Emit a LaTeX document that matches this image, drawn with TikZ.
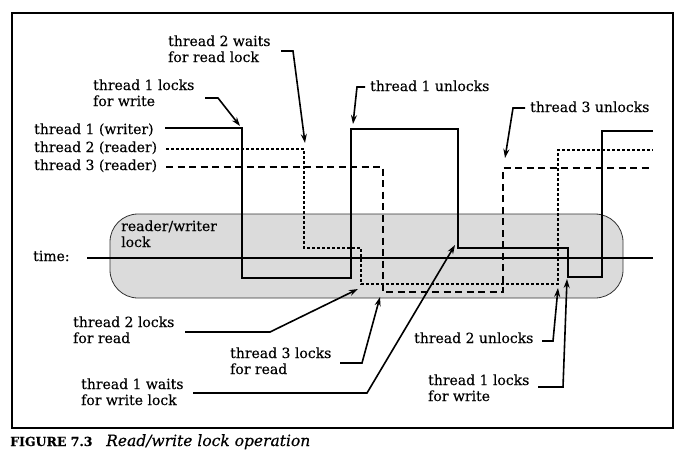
\documentclass[tikz,border=0pt]{standalone}
\usepackage{fontspec}
\setmainfont{DejaVu Serif}[FakeBold=0.3]
\usetikzlibrary{arrows.meta}
\begin{document}
\begin{tikzpicture}[x=1pt,y=-1pt,
  lbl/.style={anchor=base west, inner sep=0pt, align=left, font=\fontsize{14}{16}\selectfont},
  sig/.style={line width=1.1pt},
  sigdot/.style={sig, dash pattern=on 3pt off 2pt},
  sigdash/.style={sig, dash pattern=on 7pt off 4.5pt},
  lead/.style={line width=1.6pt, -{Stealth[length=9pt,width=6pt]}},
  lockbox/.style={fill=gray!28, draw=gray!40!black, line width=0.8pt, rounded corners=28pt},
]
\useasboundingbox (0,0) rectangle (684,463);
\draw[line width=1.3pt] (12,13) rectangle (673,428);
% lock box
\path[lockbox] (110,214) rectangle (623,298);
% (multi-line nodes: base anchor = baseline of the last line)
\node[lbl] (rw) at (121,247) {reader/writer\\lock};
% time line
\node[lbl] (time) at (33,261) {time:};
\coordinate (tstart) at (87,258);
\coordinate (tend) at (653,258);
\draw[line width=1.4pt] (tstart) -- (tend);
% thread labels
\node[lbl] (l1) at (34,134) {thread 1 (writer)};
\node[lbl] (l2) at (34,152) {thread 2 (reader)};
\node[lbl] (l3) at (34,170) {thread 3 (reader)};
% thread 1 (solid)
\draw[sig] (165,128) -- (242,128) -- (242,278) -- (351,278) -- (351,129) -- (458,129)
  -- (458,248) -- (568,248) -- (568,277) -- (602,277) -- (602,131) -- (653,131);
% thread 2 (dotted)
\draw[sigdot] (166,149) -- (304,149) -- (304,248) -- (361,248) -- (361,284)
  -- (558,284) -- (558,150) -- (653,150);
% thread 3 (dashed)
\draw[sigdash] (166,167) -- (383,167) -- (383,292) -- (503,292) -- (503,168) -- (653,168);
% annotations
\node[lbl] (a1) at (93,106) {thread 1 locks\\for write};
\coordinate (a1s) at (205,98); \coordinate (a1b) at (218,98); \coordinate (a1t) at (240,126);
\draw[lead] (a1s) -- (a1b) -- (a1t);

\node[lbl] (a2) at (168,62) {thread 2 waits\\for read lock};
\coordinate (a2s) at (281,51); \coordinate (a2b) at (293,51); \coordinate (a2t) at (305,143);
\draw[lead] (a2s) -- (a2b) -- (a2t);

\node[lbl] (a3) at (370,91) {thread 1 unlocks};
\coordinate (a3s) at (365,87); \coordinate (a3b) at (357,87); \coordinate (a3t) at (353,124);
\draw[lead] (a3s) -- (a3b) -- (a3t);

\node[lbl] (a4) at (530,112) {thread 3 unlocks};
\coordinate (a4s) at (525,108); \coordinate (a4b) at (513,108); \coordinate (a4t) at (505,158);
\draw[lead] (a4s) -- (a4b) -- (a4t);

\node[lbl] (a5) at (73,343) {thread 2 locks\\for read};
\coordinate (a5s) at (185,332); \coordinate (a5b) at (270,332); \coordinate (a5t) at (358,289);
\draw[lead] (a5s) -- (a5b) -- (a5t);

\node[lbl] (a6) at (230,374) {thread 3 locks\\for read};
\coordinate (a6s) at (340,363); \coordinate (a6b) at (362,363); \coordinate (a6t) at (380,297);
\draw[lead] (a6s) -- (a6b) -- (a6t);

\node[lbl] (a7) at (81,405) {thread 1 waits\\for write lock};
\coordinate (a7s) at (193,393); \coordinate (a7b) at (367,393); \coordinate (a7t) at (455,245);
\draw[lead] (a7s) -- (a7b) -- (a7t);

\node[lbl] (a8) at (414,343) {thread 2 unlocks};
\coordinate (a8s) at (542,341); \coordinate (a8b) at (553,341); \coordinate (a8t) at (558,288);
\draw[lead] (a8s) -- (a8b) -- (a8t);

\node[lbl] (a9) at (428,401) {thread 1 locks\\for write};
\coordinate (a9s) at (538,387); \coordinate (a9b) at (563,387); \coordinate (a9t) at (567,279);
\draw[lead] (a9s) -- (a9b) -- (a9t);
% caption
\node[lbl, font=\fontsize{12.5}{15}\selectfont\bfseries] (cap1) at (10,446) {FIGURE 7.3};
\node[lbl, font=\fontsize{15.5}{18}\selectfont\itshape] (cap2) at (106,446) {Read/write lock operation};
\end{tikzpicture}
\end{document}
